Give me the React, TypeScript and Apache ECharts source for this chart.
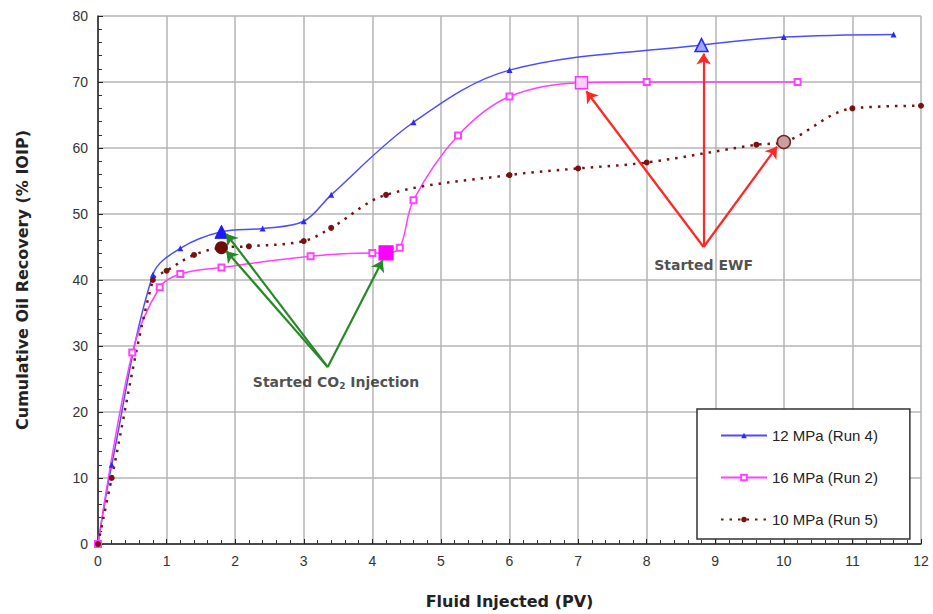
import React, { useEffect, useRef } from "react";
import * as echarts from "echarts";

const xTicks = [0, 1, 2, 3, 4, 5, 6, 7, 8, 9, 10, 11, 12];
const yTicks = [0, 10, 20, 30, 40, 50, 60, 70, 80];

const run4X = [0, 0.2, 0.8, 1.2, 1.8, 2.4, 3.0, 3.4, 4.6, 6.0, 8.8, 10.0, 11.6];
const run4Y = [0, 12, 40.8, 44.8, 47.3, 47.8, 48.9, 52.9, 63.9, 71.8, 75.6, 76.8, 77.2];

const run2X = [0, 0.5, 0.9, 1.2, 1.8, 3.1, 4.0, 4.2, 4.4, 4.6, 5.25, 6.0, 7.05, 8.0, 10.2];
const run2Y = [0, 29, 38.9, 40.9, 41.9, 43.6, 44.1, 44.1, 44.9, 52.1, 61.9, 67.8, 69.9, 70, 70];

const run5X = [0, 0.2, 0.8, 1.0, 1.4, 1.8, 2.2, 3.0, 3.4, 4.2, 6.0, 7.0, 8.0, 9.6, 10.0, 11.0, 12.0];
const run5Y = [0, 10, 40, 41.4, 43.8, 44.9, 45.1, 45.9, 47.9, 52.9, 55.9, 56.9, 57.8, 60.5, 60.9, 66, 66.4];

const seriesNames = ["12 MPa (Run 4)", "16 MPa (Run 2)", "10 MPa (Run 5)"];

const co2Start = [3.35, 26.8];
const co2Targets = [[1.87, 47.0], [1.87, 44.4], [4.15, 43.0]];
const ewfStart = [8.83, 45.0];
const ewfTargets = [[7.12, 68.6], [8.83, 74.3], [9.9, 60.2]];
const co2LabelPos = [3.47, 24.5];
const ewfLabelPos = [8.83, 42.3];

const BLUE = "#4d4dff";
const MAGENTA = "#ff40ff";
const BROWN = "#7a1010";
const WIDE = "DejaVu Sans, Verdana, sans-serif";

export default function App() {
  const ref = useRef<HTMLDivElement>(null);
  useEffect(() => {
    if (!ref.current) return;
    const chart = echarts.init(ref.current, null, { renderer: "svg" });

    const blueData = run4X.map((x, i) => {
      const v = [x, run4Y[i]];
      if (x === 1.8) return { value: v, symbol: "triangle", symbolSize: 13, itemStyle: { color: "#1a1aff", borderColor: "#1a1aff" } };
      if (x === 8.8) return { value: v, symbol: "triangle", symbolSize: 13, itemStyle: { color: "#9fa8ff", borderColor: "#2626ff", borderWidth: 1.5 } };
      return v;
    });
    const magData = run2X.map((x, i) => {
      const v = [x, run2Y[i]];
      if (x === 4.2) return { value: v, symbol: "rect", symbolSize: 14, itemStyle: { color: "#ff00ff", borderColor: "#ff00ff" } };
      if (x === 7.05) return { value: v, symbol: "rect", symbolSize: 12, itemStyle: { color: "#ffd0ff", borderColor: "#ff30ff", borderWidth: 1.5 } };
      return v;
    });
    const brownData = run5X.map((x, i) => {
      const v = [x, run5Y[i]];
      if (x === 1.8) return { value: v, symbol: "circle", symbolSize: 13, itemStyle: { color: "#6e0b0b" } };
      if (x === 10.0) return { value: v, symbol: "circle", symbolSize: 13, itemStyle: { color: "#c9a0a0", borderColor: "#7a2020", borderWidth: 1.5 } };
      return v;
    });

    chart.setOption({
      animation: false,
      textStyle: { fontFamily: "Liberation Sans, Arial, sans-serif" },
      grid: { left: 98, right: 12, top: 16, bottom: 70 },
      xAxis: {
        type: "value",
        min: 0,
        max: 12,
        interval: 1,
        name: "Fluid Injected (PV)",
        nameLocation: "middle",
        nameGap: 49,
        nameTextStyle: { fontSize: 16, fontWeight: "bold", color: "#222", fontFamily: WIDE },
        axisLine: { show: true, onZero: false, lineStyle: { color: "#222", width: 1.5 } },
        axisTick: { show: true, inside: true, length: 5, lineStyle: { color: "#222" } },
        minorTick: { show: true, splitNumber: 5, length: 4, lineStyle: { color: "#333" } },
        axisLabel: { fontSize: 14, color: "#333", margin: 10, formatter: (v: number) => (xTicks.includes(v) ? String(v) : "") },
        splitLine: { show: true, lineStyle: { color: "#b4b4b4", width: 1.5 } },
      },
      yAxis: {
        type: "value",
        min: 0,
        max: 80,
        interval: 10,
        name: "Cumulative Oil Recovery (% IOIP)",
        nameLocation: "middle",
        nameGap: 68,
        nameTextStyle: { fontSize: 16, fontWeight: "bold", color: "#222", fontFamily: WIDE },
        axisLine: { show: true, onZero: false, lineStyle: { color: "#222", width: 1.5 } },
        axisTick: { show: true, inside: true, length: 5, lineStyle: { color: "#222" } },
        minorTick: { show: true, splitNumber: 5, length: 4, lineStyle: { color: "#333" } },
        axisLabel: { fontSize: 14, color: "#333", margin: 10, formatter: (v: number) => (yTicks.includes(v) ? String(v) : "") },
        splitLine: { show: true, lineStyle: { color: "#b4b4b4", width: 1.5 } },
      },
      legend: {
        data: seriesNames,
        orient: "vertical",
        left: 697,
        top: 409,
        padding: [19, 32, 12, 23],
        itemGap: 27,
        itemWidth: 46,
        itemHeight: 7,
        borderColor: "#333",
        borderWidth: 1.5,
        backgroundColor: "#fff",
        textStyle: { fontSize: 15, color: "#222" },
      },
      series: [
        {
          name: seriesNames[0],
          type: "line",
          smooth: 0.35,
          data: blueData,
          symbol: "triangle",
          symbolSize: 6,
          lineStyle: { color: BLUE, width: 1.5 },
          itemStyle: { color: "#2a2aff" },
          z: 3,
        },
        {
          name: seriesNames[1],
          type: "line",
          smooth: 0.35,
          data: magData,
          symbol: "emptyRect",
          symbolSize: 6,
          lineStyle: { color: MAGENTA, width: 1.5 },
          itemStyle: { color: MAGENTA, borderColor: MAGENTA, borderWidth: 1.2 },
          z: 3,
        },
        {
          name: seriesNames[2],
          type: "line",
          smooth: 0.35,
          data: brownData,
          symbol: "circle",
          symbolSize: 6,
          lineStyle: { color: BROWN, width: 2.5, type: [2.5, 6] },
          itemStyle: { color: BROWN },
          z: 3,
        },
        {
          type: "lines",
          coordinateSystem: "cartesian2d",
          symbol: ["none", "arrow"],
          symbolSize: 11,
          lineStyle: { color: "#258a25", width: 2.2, opacity: 1, curveness: 0 },
          data: co2Targets.map((t) => ({ coords: [co2Start, t] })),
          z: 5,
        },
        {
          type: "lines",
          coordinateSystem: "cartesian2d",
          symbol: ["none", "arrow"],
          symbolSize: 11,
          lineStyle: { color: "#ff2626", width: 2.2, opacity: 1, curveness: 0 },
          data: ewfTargets.map((t) => ({ coords: [ewfStart, t] })),
          z: 5,
        },
        {
          type: "scatter",
          symbolSize: 1,
          itemStyle: { color: "transparent" },
          silent: true,
          z: 6,
          data: [
            { value: co2LabelPos, label: { formatter: "Started CO{sub|2} Injection" } },
            { value: ewfLabelPos, label: { formatter: "Started EWF" } },
          ],
          label: {
            show: true,
            position: "inside",
            color: "#222",
            fontSize: 14,
            fontWeight: "bold",
            fontFamily: WIDE,
            rich: {
              sub: { fontSize: 9, fontWeight: "bold", color: "#222", fontFamily: WIDE, verticalAlign: "bottom", padding: [7, 0, 0, 0] },
            },
          },
        },
      ],
    });
    return () => chart.dispose();
  }, []);

  return <div ref={ref} style={{ width: 933, height: 614, position: "absolute", left: 0, top: 0, background: "#fff" }} />;
}
